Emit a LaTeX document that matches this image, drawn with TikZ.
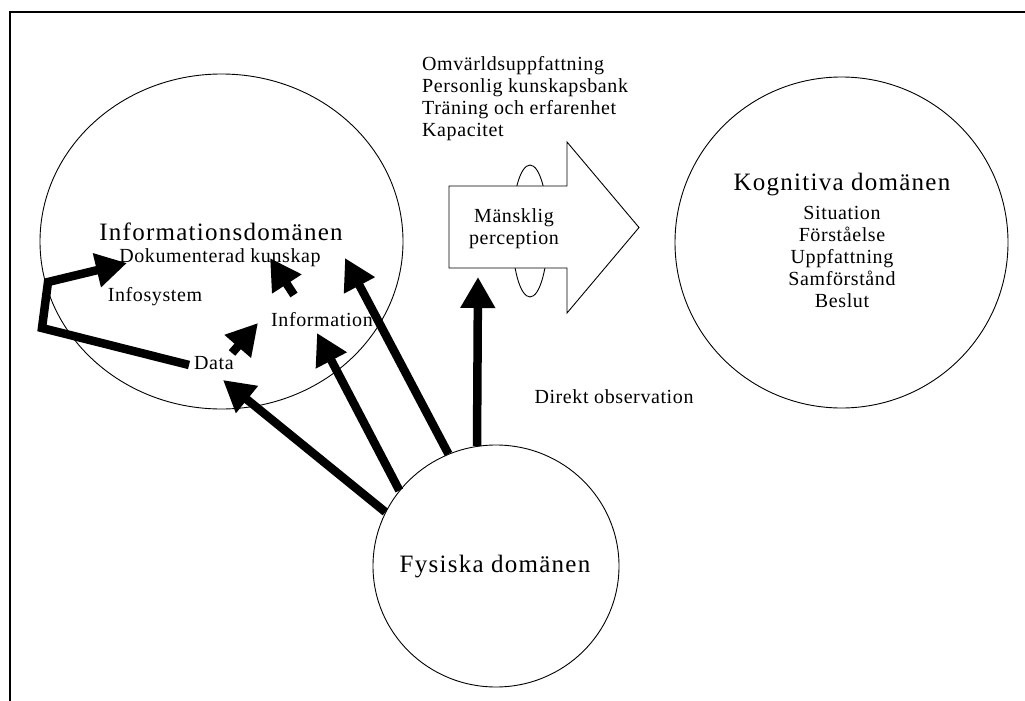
\documentclass[tikz,border=0pt]{standalone}
\usepackage{fontspec}
\setmainfont{Liberation Serif}
\newfontfamily\smallf{Liberation Serif}[LetterSpace=3]
\newfontfamily\titlef{Liberation Serif}[LetterSpace=5]
\usetikzlibrary{arrows.meta,shapes.geometric}
\tikzset{
  dom/.style={draw, ellipse, line width=0.9pt, inner sep=0pt},
  lbl/.style={font=\smallf\fontsize{20}{22}\selectfont, inner sep=0pt},
  ttl/.style={font=\titlef\fontsize{25}{27}\selectfont, inner sep=0pt},
  bigarrow/.style={line width=8.5pt, line join=miter, -{Triangle[length=31pt,width=33pt]}},
  frame/.style={line width=2pt},
  percshape/.style={draw, fill=white, line width=0.9pt},
}
\begin{document}
\begin{tikzpicture}[x=1pt,y=-1pt]
\useasboundingbox (0,0) rectangle (1025,701);
% frame
\draw[frame] (9.5,701) -- (9.5,12.5) -- (1025,12.5);

% domains
\node[dom, minimum width=363pt, minimum height=335pt] (info) at (221.5,241.5) {};
\node[dom, minimum width=333pt, minimum height=331pt] (kog) at (841.5,242.5) {};
\node[dom, minimum width=246pt, minimum height=242pt] (fys) at (496,566) {};

% titles
\node[ttl] (infot) at (221,232) {Informationsdomänen};
\node[ttl] (kogt) at (842,185) {Kognitiva domänen};
\node[ttl] (fyst) at (495,567) {Fysiska domänen};

% info domain labels
\node[lbl] (dok) at (220,258) {Dokumenterad kunskap};
\node[lbl] (infosys) at (155,297) {Infosystem};
\node[lbl] (information) at (322,320) {Information};
\node[lbl] (data) at (214,363) {Data};

% cognitive list
\node[lbl, align=center] (koglist) at (842,257) {Situation\\Förståelse\\Uppfattning\\Samförstånd\\Beslut};

% upper list
\node[lbl, align=left, anchor=west] (factors) at (422,98.5) {Omvärldsuppfattning\\Personlig kunskapsbank\\Träning och erfarenhet\\Kapacitet};

% human perception
\node[draw, ellipse, line width=0.9pt, minimum width=36pt, minimum height=132pt, inner sep=0pt] (loop) at (530,231) {};
\draw[percshape] (449,186) -- (567,186) -- (567,142) -- (639,227.5) -- (567,313) -- (567,268) -- (449,268) -- cycle;
\node[lbl, align=center] (perc) at (514,229) {Mänsklig\\perception};
\coordinate (percin) at (478,277);

\node[lbl] (direkt) at (614,397) {Direkt observation};

% arrow tips
\coordinate (dokin) at (127,263);
\coordinate (c1) at (42,328);
\coordinate (c2) at (48,282);
\coordinate (datain) at (223,380);
\coordinate (infoin) at (317,333);
\coordinate (dokin2) at (345,258);
\coordinate (d2i) at (258,323);
\coordinate (i2d) at (270,258);
\coordinate (dfrom) at (232,353);
\coordinate (ifrom) at (294,295);

% connectors
\draw[bigarrow] ([xshift=-5pt,yshift=-2pt]data.west) -- (c1) -- (c2) -- (dokin);
\draw[bigarrow] (dfrom) -- (d2i);
\draw[bigarrow] (ifrom) -- (i2d);
\draw[bigarrow] (fys.154.5) -- (datain);
\draw[bigarrow] (fys.142.4) -- (infoin);
\draw[bigarrow] (fys.113.4) -- (dokin2);
\draw[bigarrow] (fys.99) -- (percin);
\end{tikzpicture}
\end{document}
